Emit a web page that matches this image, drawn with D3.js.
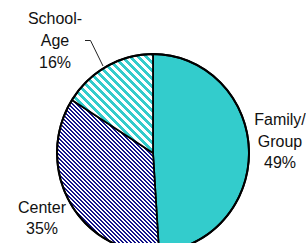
<!DOCTYPE html>
<html>
<head>
<meta charset="utf-8">
<script src="https://cdn.jsdelivr.net/npm/d3@7"></script>
<style>
html,body{margin:0;padding:0;background:#fff;}
svg{display:block;}
text{font-family:"Liberation Sans",Arial,sans-serif;font-size:16px;fill:#111;}
</style>
</head>
<body>
<svg id="chart" width="306" height="243"></svg>
<script>
const categories = ["Family/Group", "Center", "School-Age"];
const values = [49, 35, 16];
const labelLines = [["Family/", "Group", "49%"], ["Center", "35%"], ["School-", "Age", "16%"]];

const W = 306, H = 243;
const cx = 153, cy = 153, rx = 96, ry = 99;

const svg = d3.select("#chart");
const defs = svg.append("defs");

function stripePattern(id, size, on, color) {
  const p = defs.append("pattern").attr("id", id)
    .attr("patternUnits", "userSpaceOnUse")
    .attr("width", size).attr("height", size);
  p.append("rect").attr("width", size).attr("height", size).attr("fill", "#fff");
  const cells = [];
  for (let y = 0; y < size; y++) for (let x = 0; x < size; x++) {
    if ((((x - y) % size) + size) % size < on) cells.push([x, y]);
  }
  p.selectAll("rect.c").data(cells).join("rect").attr("class", "c")
    .attr("x", d => d[0]).attr("y", d => d[1])
    .attr("width", 1).attr("height", 1)
    .attr("fill", color).attr("shape-rendering", "crispEdges");
}
stripePattern("pCenter", 4, 2, "#14148a");
stripePattern("pSchool", 8, 4, "#33cccc");

const fills = ["#33cccc", "url(#pCenter)", "url(#pSchool)"];

const pie = d3.pie().sort(null).value(d => d)(values);

function pt(a) { return [cx + rx * Math.sin(a), cy - ry * Math.cos(a)]; }
function slicePath(d) {
  const p = d3.path();
  const p0 = pt(d.startAngle), p1 = pt(d.endAngle);
  const large = (d.endAngle - d.startAngle) > Math.PI ? 1 : 0;
  return `M${cx},${cy}L${p0[0]},${p0[1]}A${rx},${ry} 0 ${large} 1 ${p1[0]},${p1[1]}Z`;
}

svg.append("g").selectAll("path").data(pie).join("path")
  .attr("d", slicePath)
  .attr("fill", (d, i) => fills[i])
  .attr("stroke", "#000")
  .attr("stroke-width", 1.8)
  .attr("stroke-linejoin", "round");

// outer outline
svg.append("ellipse").attr("cx", cx).attr("cy", cy).attr("rx", rx).attr("ry", ry)
  .attr("fill", "none").attr("stroke", "#000").attr("stroke-width", 2);

// labels
const labelPos = [
  { x: 280, y: 125 },
  { x: 42, y: 213 },
  { x: 55, y: 24 }
];
const lineH = [21.5, 21, 22];
const lg = svg.append("g");
labelLines.forEach((lines, i) => {
  const t = lg.append("text").attr("text-anchor", "middle");
  lines.forEach((s, j) => {
    t.append("tspan").attr("x", labelPos[i].x).attr("y", labelPos[i].y + j * lineH[i]).text(s);
  });
});

// leader line for School-Age
const sch = pie[2];
svg.append("polyline")
  .attr("points", "85,40.5 90.5,40.5 103,66")
  .attr("fill", "none").attr("stroke", "#222").attr("stroke-width", 1);
</script>
</body>
</html>
